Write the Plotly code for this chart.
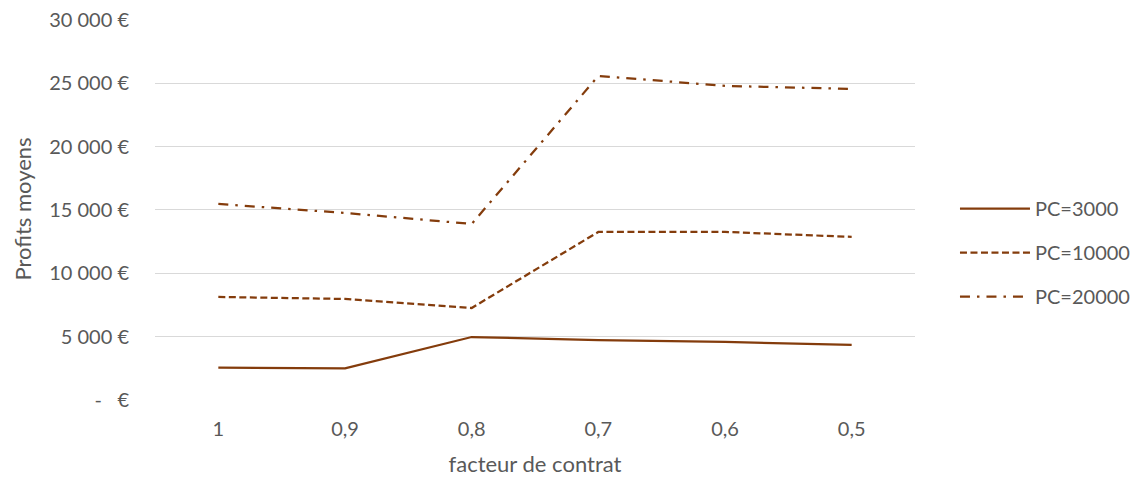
import plotly.graph_objects as go

categories = ["1", "0,9", "0,8", "0,7", "0,6", "0,5"]
pc3000 = [2550, 2500, 4970, 4730, 4580, 4340]
pc10000 = [8130, 7970, 7260, 13260, 13260, 12870]
pc20000 = [15470, 14760, 13890, 25570, 24780, 24550]
series_names = ["PC=3000", "PC=10000", "PC=20000"]
y_ticks = [0, 5000, 10000, 15000, 20000, 25000, 30000]
y_ticktext = ["-   €", "5 000 €", "10 000 €", "15 000 €", "20 000 €", "25 000 €", "30 000 €"]

color = "#843C0C"
font = "Lato, 'Open Sans', sans-serif"
dashes = ["solid", "7px,3.5px", "10px,7px,2.5px,7px"]

fig = go.Figure()
for i, (name, vals) in enumerate(zip(series_names, [pc3000, pc10000, pc20000])):
    fig.add_trace(go.Scatter(
        x=categories, y=vals, mode="lines", name=name,
        legendgroup=name,
        line=dict(color=color, width=2.25, dash=dashes[i]),
    ))

fig.update_layout(
    width=1140, height=479,
    margin=dict(l=147, r=233, t=11, b=87),
    paper_bgcolor="white", plot_bgcolor="white",
    font=dict(family=font, size=20, color="#595959"),
    showlegend=True,
    legend=dict(x=1.0526, y=0.387, yanchor="middle", xanchor="left",
                traceorder="grouped", tracegroupgap=15,
                itemwidth=70, font=dict(size=20, color="#595959")),
    xaxis=dict(type="category", range=[-0.5, 5.5], showgrid=False, zeroline=False,
               showline=False, ticks="", tickfont=dict(size=20), automargin=False,
               ticklabelstandoff=15,
               title=dict(text="facteur de contrat", font=dict(size=22), standoff=17)),
    yaxis=dict(range=[0, 30060], tickvals=y_ticks, ticktext=y_ticktext,
               showgrid=True, gridcolor="#D9D9D9", gridwidth=1.3,
               zeroline=False, showline=False, ticks="", automargin=False,
               ticklabeloverflow="allow",
               tickfont=dict(size=20), ticklabelstandoff=25),
    annotations=[dict(text="Profits moyens", textangle=-90, xref="paper", yref="paper",
                      x=-0.175, y=0.5, xanchor="center", yanchor="middle",
                      showarrow=False, font=dict(size=22, color="#595959"))],
)

fig.write_html("out.html")
